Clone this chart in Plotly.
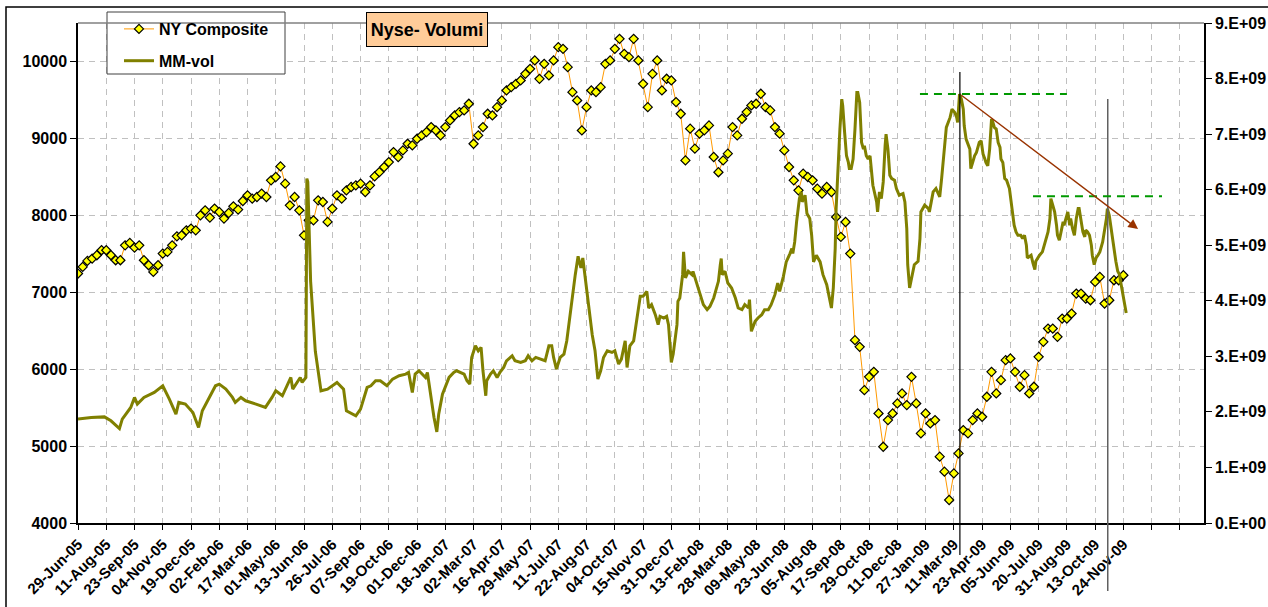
import plotly.graph_objects as go

# x axis: trading-day index from 29-Jun-05, one label every 30 sessions
tick_labels = ["29-Jun-05", "11-Aug-05", "23-Sep-05", "04-Nov-05", "19-Dec-05", "02-Feb-06",
               "17-Mar-06", "01-May-06", "13-Jun-06", "26-Jul-06", "07-Sep-06", "19-Oct-06",
               "01-Dec-06", "18-Jan-07", "02-Mar-07", "16-Apr-07", "29-May-07", "11-Jul-07",
               "22-Aug-07", "04-Oct-07", "15-Nov-07", "31-Dec-07", "13-Feb-08", "28-Mar-08",
               "09-May-08", "23-Jun-08", "05-Aug-08", "17-Sep-08", "29-Oct-08", "11-Dec-08",
               "27-Jan-09", "11-Mar-09", "23-Apr-09", "05-Jun-09", "20-Jul-09", "31-Aug-09",
               "13-Oct-09", "24-Nov-09", "", ""]
tick_step = 30
n_days = 1195.6

# NY Composite, one reading every 5 sessions
ny_close = [7243, 7329, 7407, 7437, 7481, 7546, 7546, 7481, 7416, 7416,
            7610, 7641, 7580, 7610, 7416, 7351, 7264, 7351, 7502, 7524,
            7610, 7727, 7740, 7805, 7827, 7805, 8000, 8065, 7970, 8087,
            8043, 7957, 8030, 8117, 8074, 8186, 8260, 8217, 8238, 8282,
            8238, 8455, 8498, 8636, 8411, 8130, 8238, 8065, 7740, 7935,
            7935, 8195, 8173, 7914, 8087, 8260, 8217, 8325, 8368, 8390,
            8411, 8303, 8390,
            8506, 8562, 8627, 8692, 8822, 8757, 8844, 8930, 8909, 8995,
            9039, 9082, 9147, 9103, 9039, 9147, 9233, 9298, 9342, 9363,
            9450, 8930, 9039, 9147, 9320, 9298, 9406, 9493, 9623, 9666,
            9709, 9753, 9839, 9904, 10013, 9774, 9969, 9818, 10013, 10186,
            10164, 9926, 9601, 9493, 9103, 9406, 9623, 9601, 9666, 9969,
            10013, 10164, 10294, 10099, 10056, 10294, 10013, 9709, 9406, 9839,
            10013,
            9623, 9775, 9753, 9472, 9320, 8714, 9126, 8866, 9061, 9104,
            9169, 8758, 8560, 8714, 8801, 9147, 9039, 9255, 9342, 9429,
            9450, 9580, 9407, 9364, 9147, 9061, 8844, 8628, 8455, 8325,
            8541, 8498, 8455, 8346, 8281, 8368, 8303, 7978, 7719, 7913,
            7502, 6377, 6290, 5727, 5900, 5965, 5424, 4991, 5338, 5424,
            5554,
            5684, 5533, 5900, 5554, 5165, 5424, 5294, 5338, 4862, 4667,
            4299, 4645, 4905, 5208, 5165, 5338, 5424, 5381, 5641, 5965,
            5684, 5857, 6117, 6139, 5965, 5771, 5922, 5684, 5771, 6160,
            6355, 6528, 6528, 6420, 6658, 6658, 6723, 6983, 6983, 6918,
            6896, 7134, 7199, 6853, 6896, 7156, 7156, 7221]
ny_day = list(range(0, 5 * len(ny_close), 5))

# MM-vol (billions of shares), read at the session index of each turn
vol_day = [0, 14, 28, 35, 44, 47, 56, 60, 63, 70, 81, 90, 97, 104, 107, 114, 122, 128, 132, 139,
           146, 150, 157, 164, 167, 173, 178, 189, 199, 206, 210, 217, 226, 228, 236, 238, 242, 243, 244, 247,
           252, 258, 265, 275, 282, 285, 295, 300, 303, 307, 311,
           316, 321, 328, 334, 341, 348, 351, 355, 358, 362, 369, 371, 374, 378, 381, 383, 387, 391, 394,
           399, 402, 410, 413, 416, 418, 422, 425, 428, 430, 433, 434, 438, 441, 445, 448, 452, 455, 461,
           464, 470, 475, 478, 482, 486, 491, 496, 500, 503, 505, 508, 512, 516, 519, 523, 525, 528, 531,
           534, 536, 539, 542, 546, 549, 552, 555, 558, 562, 567, 570, 574, 577, 581, 583, 586, 590, 593,
           597, 600, 604, 606, 609, 613, 616, 618, 622, 625, 627, 630, 632, 636, 637, 639, 642, 643, 645,
           648, 652, 653, 657, 660, 664, 668, 671, 675, 677, 680, 682, 683, 684, 687, 690, 694, 698, 701,
           705, 708, 712, 713, 715, 719, 722, 726, 729, 733, 736, 740, 743, 745, 749, 752, 756, 758, 759,
           761, 763, 766, 768, 769, 772, 774, 777, 779, 781, 784, 788, 791, 795, 798, 800, 802, 804, 805,
           807, 809, 811, 812, 814, 816, 818, 819, 821, 823, 825, 827, 828, 830, 832, 834, 835, 837, 839,
           841, 844, 848, 849, 851, 853, 855, 857, 858, 860, 862, 864, 867, 869, 872,
           876, 878, 880, 881, 883, 885, 887, 888, 892, 894, 895, 899, 903, 904, 906, 908, 911, 913, 915,
           917, 918, 920, 922, 926, 928, 931, 933, 934, 936, 938, 940, 941, 943, 947, 948, 950, 952, 954,
           957, 959, 961, 963, 964, 966, 968, 970, 971, 973, 975, 977, 979, 980, 982, 984, 986, 989, 991,
           993, 994, 996, 998, 1001, 1003, 1005, 1007, 1008, 1012, 1014, 1016, 1017, 1019, 1021, 1024, 1028, 1030,
           1032, 1033, 1035, 1037, 1039, 1040, 1042, 1044, 1046, 1047, 1049, 1051, 1053, 1054, 1056, 1058, 1060, 1062,
           1063, 1065, 1067, 1069, 1070, 1072, 1074, 1076, 1077, 1079, 1081, 1083, 1085, 1088, 1090, 1092, 1093, 1095,
           1097, 1099, 1100, 1102, 1104, 1106, 1107, 1109, 1111, 1113]
vol_bn = [1.87, 1.90, 1.91, 1.84, 1.70, 1.87, 2.08, 2.26, 2.14, 2.26, 2.35, 2.47, 2.23, 1.96, 2.17, 2.14, 1.99, 1.72, 2.02, 2.26,
          2.47, 2.50, 2.41, 2.26, 2.17, 2.26, 2.20, 2.14, 2.08, 2.26, 2.38, 2.29, 2.62, 2.41, 2.62, 2.53, 2.62, 6.20, 6.14, 4.35,
          3.09, 2.38, 2.41, 2.53, 2.41, 2.02, 1.93, 2.05, 2.20, 2.44, 2.47,
          2.56, 2.56, 2.47, 2.59, 2.65, 2.68, 2.71, 2.35, 2.68, 2.74, 2.62, 2.71, 2.32, 1.90, 1.64, 1.96, 2.32, 2.50, 2.62,
          2.71, 2.74, 2.68, 2.56, 2.50, 2.98, 3.19, 3.10, 3.16, 2.74, 2.29, 2.56, 2.68, 2.74, 2.62, 2.71, 2.80, 2.92, 3.01,
          2.92, 2.89, 2.92, 3.01, 2.92, 2.98, 2.95, 2.92, 3.19, 3.19, 2.98, 2.77, 2.98, 3.04, 3.28, 3.81, 4.14, 4.47, 4.80,
          4.59, 4.77, 4.35, 3.87, 3.39, 3.10, 2.59, 2.74, 2.98, 3.10, 3.07, 3.10, 2.86, 2.95, 3.28, 2.80, 3.19, 3.28, 3.63,
          4.08, 4.08, 4.17, 3.87, 3.93, 3.75, 3.57, 3.72, 3.69, 3.72, 3.57, 2.89, 3.04, 3.57, 3.99, 4.05, 4.47, 4.88, 4.41,
          4.53, 4.47, 4.53, 4.32, 4.17, 3.93, 3.84, 3.90, 4.05, 4.17, 4.35, 4.65, 4.76, 4.47, 4.53, 4.32, 4.23, 4.05, 3.87,
          3.84, 3.93, 3.87, 4.02, 3.45, 3.63, 3.69, 3.75, 3.84, 3.84, 3.93, 4.11, 4.32, 4.17, 4.44, 4.70, 4.85, 4.94, 4.85,
          5.06, 5.42, 5.84, 5.96, 5.78, 5.90, 5.57, 5.48, 5.18, 4.70, 4.82, 4.70, 4.47, 4.29, 3.99, 3.87, 4.23, 4.94, 5.66,
          6.49, 7.09, 7.63, 7.51, 7.03, 6.61, 6.49, 6.38, 6.38, 6.55, 7.09, 7.75, 7.75, 7.57, 6.85, 6.73, 6.79, 6.61, 6.55,
          6.61, 6.08, 5.78, 5.60, 5.96, 5.84, 6.14, 6.79, 7.00, 6.73, 6.26, 6.20, 6.17, 6.02, 5.90,
          5.93, 5.78, 5.30, 4.65, 4.23, 4.41, 4.59, 4.65, 4.71, 5.12, 5.60, 5.72, 5.66, 5.60, 5.78, 5.96, 6.02, 5.93, 5.87,
          6.20, 6.38, 6.73, 7.12, 7.30, 7.45, 7.39, 7.30, 7.21, 7.72, 7.63, 7.45, 7.15, 6.91, 6.73, 6.38, 6.49, 6.61, 6.67,
          6.85, 6.88, 6.64, 6.55, 6.49, 6.43, 6.73, 7.27, 7.24, 7.12, 7.09, 6.85, 6.76, 6.55, 6.49, 6.20, 6.17, 6.02, 5.78,
          5.48, 5.36, 5.24, 5.18, 5.18, 5.12, 5.18, 5.00, 4.77, 4.82, 4.68, 4.56, 4.71, 4.77, 4.82, 4.88, 5.12, 5.24,
          5.48, 5.84, 5.72, 5.60, 5.36, 5.18, 5.09, 5.24, 5.42, 5.36, 5.48, 5.60, 5.36, 5.48, 5.30, 5.18, 5.48, 5.66,
          5.66, 5.48, 5.24, 5.15, 5.27, 5.24, 5.18, 5.00, 4.82, 4.65, 4.77, 4.82, 4.88, 5.06, 5.24, 5.48, 5.66, 5.54,
          5.30, 5.06, 4.88, 4.71, 4.53, 4.47, 4.35, 4.17, 3.93, 3.78]

left_ticks = [4000, 5000, 6000, 7000, 8000, 9000, 10000]
right_ticks = [0, 1, 2, 3, 4, 5, 6, 7, 8, 9]
right_labels = ["0.E+00", "1.E+09", "2.E+09", "3.E+09", "4.E+09",
                "5.E+09", "6.E+09", "7.E+09", "8.E+09", "9.E+09"]

# drawn markings (trading-day index, volume in bn)
peak1_day, peak1_vol = 936.4, 7.72
peak2_day, peak2_vol = 1093.4, 7.63
arrow_end_day, arrow_end_vol = 1125.6, 5.29
res1 = (894, 1050, 7.72)
res2 = (1014, 1151, 5.88)

# plot area in page pixels, used for the boxes placed on the paper
L, R, T, B = 78, 1204, 23, 523
def px(x):
    return (x - L) / (R - L)
def py(y):
    return (B - y) / (B - T)

FONT = "Arial, Liberation Sans, sans-serif"
GRID = "#c0c0c0"

fig = go.Figure()
fig.add_trace(go.Scatter(
    x=ny_day, y=ny_close, name="NY Composite", mode="lines+markers",
    line=dict(color="#ff9900", width=1),
    marker=dict(symbol="diamond", size=7, color="#ffff00", line=dict(color="black", width=1.2)),
    legendgroup="a",
))
fig.add_trace(go.Scatter(
    x=vol_day, y=vol_bn, name="MM-vol", mode="lines", yaxis="y2",
    line=dict(color="#808000", width=3),
    legendgroup="b",
))

shapes = [
    # legend frame
    dict(type="rect", xref="paper", yref="paper", x0=px(107), x1=px(285), y0=py(74), y1=py(12),
         fillcolor="white", line=dict(color="#404040", width=1), layer="above"),
    # outer chart frame and top plot border
    dict(type="rect", xref="paper", yref="paper", x0=px(6), x1=px(1290), y0=py(630), y1=py(7),
         line=dict(color="black", width=1.5)),
    dict(type="line", xref="paper", yref="paper", x0=0, x1=1, y0=1, y1=1,
         line=dict(color="#808080", width=1.5)),
    # vertical markers
    dict(type="line", xref="x", yref="paper", x0=peak1_day, x1=peak1_day, y0=py(555), y1=py(72),
         line=dict(color="black", width=1.2)),
    dict(type="line", xref="x", yref="paper", x0=peak2_day, x1=peak2_day, y0=py(591), y1=py(99),
         line=dict(color="#606060", width=1.5)),
    # resistance levels
    dict(type="line", xref="x", yref="y2", x0=res1[0], x1=res1[1], y0=res1[2], y1=res1[2],
         line=dict(color="#009900", width=2, dash="8px,6px")),
    dict(type="line", xref="x", yref="y2", x0=res2[0], x1=res2[1], y0=res2[2], y1=res2[2],
         line=dict(color="#009900", width=2, dash="8px,6px")),
]

annotations = [
    dict(text="Nyse- Volumi", xref="paper", yref="paper", x=px(427), y=py(29.5),
         xanchor="center", yanchor="middle", showarrow=False,
         font=dict(family=FONT, size=18, color="black", weight="bold"),
         bgcolor="#ffcc99", bordercolor="black", borderwidth=1, borderpad=1,
         width=118, height=31),
    dict(text="", x=arrow_end_day, y=arrow_end_vol, xref="x", yref="y2",
         ax=peak1_day, ay=peak1_vol, axref="x", ayref="y2", showarrow=True,
         arrowhead=2, arrowsize=1.4, arrowwidth=1.4, arrowcolor="#993300"),
]

fig.update_layout(
    width=1268, height=607,
    margin=dict(l=L, r=1268 - R, t=T, b=607 - B, autoexpand=False),
    paper_bgcolor="white", plot_bgcolor="white",
    font=dict(family=FONT, color="black"),
    showlegend=True,
    legend=dict(x=px(119), y=py(12), xanchor="left", yanchor="top",
                bgcolor="rgba(0,0,0,0)", borderwidth=0,
                traceorder="grouped", tracegroupgap=8,
                font=dict(family=FONT, size=16, color="black", weight="bold")),
    shapes=shapes,
    annotations=annotations,
    xaxis=dict(range=[0, n_days], automargin=False,
               tickmode="array",
               tickvals=[i * tick_step for i in range(len(tick_labels))],
               ticktext=tick_labels, tickangle=-45,
               tickfont=dict(family=FONT, size=15, color="black", weight="bold"),
               ticks="outside", ticklen=5, tickcolor="black",
               showline=True, linecolor="black", linewidth=1.5,
               showgrid=True, gridcolor=GRID, griddash="6px,5px", gridwidth=1,
               zeroline=False),
    yaxis=dict(range=[4000, 10500], automargin=False,
               tickmode="array", tickvals=left_ticks, tickformat="d",
               tickfont=dict(family=FONT, size=16, color="black", weight="bold"),
               ticks="outside", ticklen=6, tickcolor="black",
               showline=True, linecolor="black", linewidth=1.5,
               showgrid=True, gridcolor=GRID, griddash="6px,5px", gridwidth=1,
               zeroline=False),
    yaxis2=dict(range=[0, 9], overlaying="y", side="right", automargin=False,
                tickmode="array", tickvals=right_ticks, ticktext=right_labels,
                tickfont=dict(family=FONT, size=16, color="black", weight="bold"),
                ticks="outside", ticklen=6, tickcolor="black",
                showline=True, linecolor="black", linewidth=1.5,
                showgrid=False, zeroline=False),
)

# page body has a default margin; drop it so the figure sits at the window origin
fig.write_html("out.html", config={"displayModeBar": False},
               post_script="document.body.style.margin='0';")
